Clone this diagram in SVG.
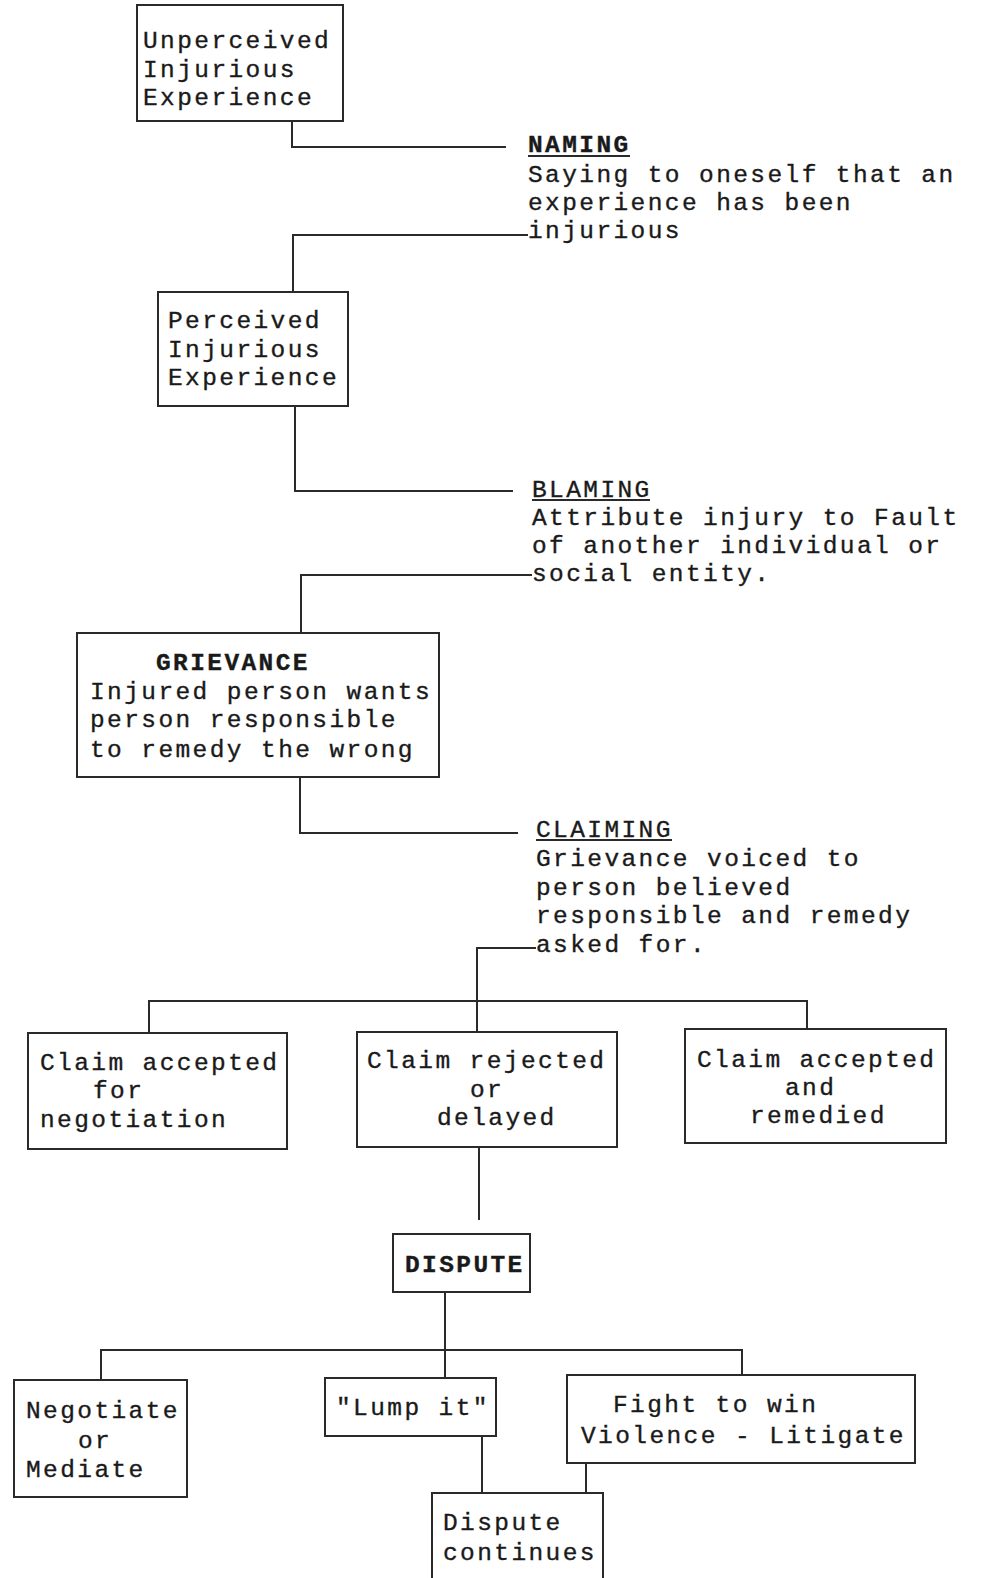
<svg xmlns="http://www.w3.org/2000/svg" width="984" height="1578" viewBox="0 0 984 1578">
<style>
.bg{fill:#ffffff}
.box{fill:none;stroke:#2a2a2a;stroke-width:2}
.ln{fill:none;stroke:#2a2a2a;stroke-width:2}
.t{font-family:"Liberation Mono","Courier New",monospace;font-size:24.5px;letter-spacing:2.4px;fill:#1a1a1a;stroke:#1a1a1a;stroke-width:0.35}
.b{font-weight:bold}
</style>
<rect class="bg" x="0" y="0" width="984" height="1578"/>
<g id="connectors">
<polyline class="ln" points="292,121 292,147 506,147"/>
<polyline class="ln" points="528,235 293,235 293,292"/>
<polyline class="ln" points="295,406 295,491 513,491"/>
<polyline class="ln" points="532,575 301,575 301,633"/>
<polyline class="ln" points="300,777 300,833 518,833"/>
<polyline class="ln" points="536,948 477,948 477,1032"/>
<polyline class="ln" points="149,1033 149,1001 807,1001 807,1029"/>
<line class="ln" x1="479" y1="1147" x2="479" y2="1220"/>
<line class="ln" x1="445" y1="1292" x2="445" y2="1378"/>
<polyline class="ln" points="101,1380 101,1350 742,1350 742,1375"/>
<line class="ln" x1="482" y1="1436" x2="482" y2="1493"/>
<line class="ln" x1="586" y1="1463" x2="586" y2="1493"/>
</g>
<g id="unperceived">
<rect class="box" x="137" y="5" width="206" height="116"/>
<text class="t" x="143" y="48">Unperceived</text>
<text class="t" x="143" y="77">Injurious</text>
<text class="t" x="143" y="105">Experience</text>
</g>
<g id="naming">
<text class="t b" x="528" y="152">NAMING</text>
<line class="ln" x1="528" y1="156" x2="630" y2="156"/>
<text class="t" x="528" y="182">Saying to oneself that an</text>
<text class="t" x="528" y="210">experience has been</text>
<text class="t" x="528" y="238">injurious</text>
</g>
<g id="perceived">
<rect class="box" x="158" y="292" width="190" height="114"/>
<text class="t" x="168" y="328">Perceived</text>
<text class="t" x="168" y="357">Injurious</text>
<text class="t" x="168" y="385">Experience</text>
</g>
<g id="blaming">
<text class="t" x="532" y="497">BLAMING</text>
<line class="ln" x1="532" y1="500" x2="650" y2="500"/>
<text class="t" x="532" y="525">Attribute injury to Fault</text>
<text class="t" x="532" y="553">of another individual or</text>
<text class="t" x="532" y="581">social entity.</text>
</g>
<g id="grievance">
<rect class="box" x="77" y="633" width="362" height="144"/>
<text class="t b" x="156" y="670">GRIEVANCE</text>
<text class="t" x="90" y="699">Injured person wants</text>
<text class="t" x="90" y="727">person responsible</text>
<text class="t" x="90" y="757">to remedy the wrong</text>
</g>
<g id="claiming">
<text class="t" x="536" y="837">CLAIMING</text>
<line class="ln" x1="536" y1="840" x2="672" y2="840"/>
<text class="t" x="536" y="866">Grievance voiced to</text>
<text class="t" x="536" y="895">person believed</text>
<text class="t" x="536" y="923">responsible and remedy</text>
<text class="t" x="536" y="952">asked for.</text>
</g>
<g id="claim-negotiation">
<rect class="box" x="28" y="1033" width="259" height="116"/>
<text class="t" x="40" y="1070">Claim accepted</text>
<text class="t" x="93" y="1098">for</text>
<text class="t" x="40" y="1127">negotiation</text>
</g>
<g id="claim-rejected">
<rect class="box" x="357" y="1032" width="260" height="115"/>
<text class="t" x="367" y="1068">Claim rejected</text>
<text class="t" x="470" y="1097">or</text>
<text class="t" x="437" y="1125">delayed</text>
</g>
<g id="claim-remedied">
<rect class="box" x="685" y="1029" width="261" height="114"/>
<text class="t" x="697" y="1067">Claim accepted</text>
<text class="t" x="785" y="1095">and</text>
<text class="t" x="750" y="1123">remedied</text>
</g>
<g id="dispute">
<rect class="box" x="393" y="1234" width="137" height="58"/>
<text class="t b" x="405" y="1272">DISPUTE</text>
</g>
<g id="negotiate">
<rect class="box" x="14" y="1380" width="173" height="117"/>
<text class="t" x="26" y="1418">Negotiate</text>
<text class="t" x="78" y="1448">or</text>
<text class="t" x="26" y="1477">Mediate</text>
</g>
<g id="lump">
<rect class="box" x="325" y="1378" width="171" height="58"/>
<text class="t" x="336" y="1415">"Lump it"</text>
</g>
<g id="fight">
<rect class="box" x="567" y="1375" width="348" height="88"/>
<text class="t" x="613" y="1412">Fight to win</text>
<text class="t" x="581" y="1443">Violence - Litigate</text>
</g>
<g id="continues">
<polyline class="box" points="432,1590 432,1493 603,1493 603,1590"/>
<text class="t" x="443" y="1530">Dispute</text>
<text class="t" x="443" y="1560">continues</text>
</g>
</svg>
